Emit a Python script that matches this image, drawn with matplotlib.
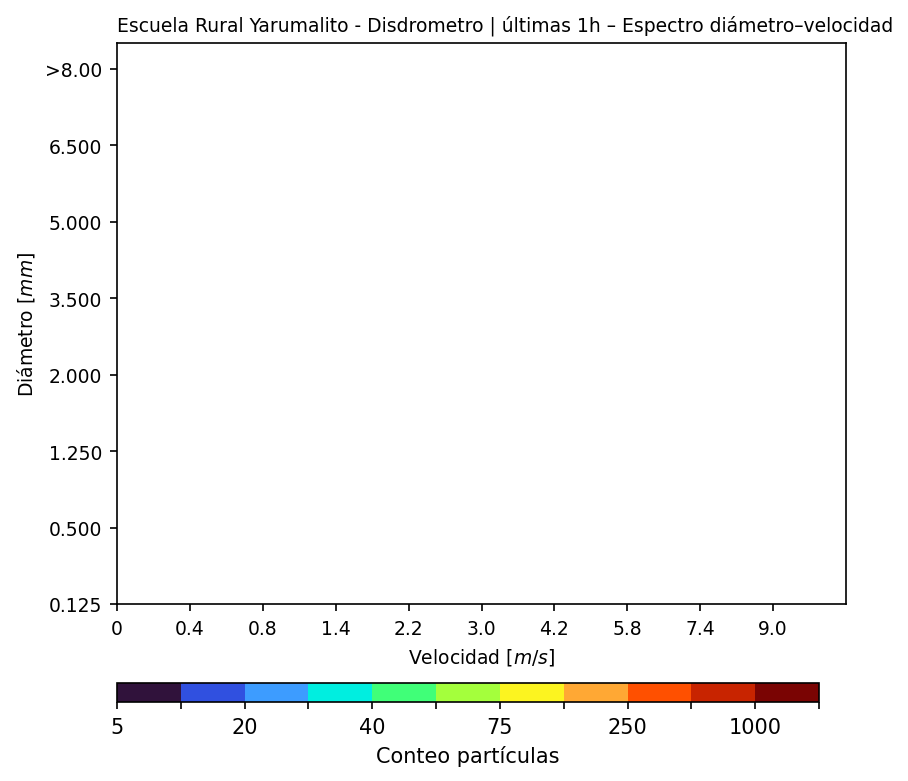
import matplotlib
matplotlib.use("Agg")
import matplotlib.pyplot as plt
import matplotlib as mpl
import numpy as np

title = "Escuela Rural Yarumalito - Disdrometro | últimas 1h – Espectro diámetro–velocidad"
x_ticklabels = ["0", "0.4", "0.8", "1.4", "2.2", "3.0", "4.2", "5.8", "7.4", "9.0"]
y_ticklabels = ["0.125", "0.500", "1.250", "2.000", "3.500", "5.000", "6.500", ">8.00"]
cbar_bounds = [5, 10, 20, 30, 40, 50, 75, 100, 250, 500, 1000, 2000]
cbar_labels = ["5", "", "20", "", "40", "", "75", "", "250", "", "1000", ""]
cbar_colors = ["#30123b", "#3050e0", "#3d9cff", "#00eee0", "#40ff78", "#a4ff3c",
               "#fcf420", "#ffa834", "#ff5000", "#c82400", "#7a0403"]

fig = plt.figure(figsize=(908/150, 782/150), dpi=150)
W, H = 908, 782
ax = fig.add_axes([117/W, 1-605/H, (846-117)/W, (605-44)/H])
ax.set_xlim(0, 10)
ax.set_ylim(0, 7.34)
ax.set_xticks(np.arange(len(x_ticklabels)))
ax.set_xticklabels(x_ticklabels, fontsize=9)
ax.set_yticks(np.arange(len(y_ticklabels)))
ax.set_yticklabels(y_ticklabels, fontsize=9)
ax.set_xlabel("Velocidad [$m/s$]", fontsize=9)
ax.set_ylabel("Diámetro [$mm$]", fontsize=9)
ax.set_title(title, fontsize=9, loc="left")

n = len(cbar_bounds) - 1
cmap = mpl.colors.ListedColormap(cbar_colors)
norm = mpl.colors.BoundaryNorm(cbar_bounds, n)
cax = fig.add_axes([117/W, 1-703/H, (819-117)/W, (703-684)/H])
cb = fig.colorbar(mpl.cm.ScalarMappable(norm=norm, cmap=cmap), cax=cax,
                  orientation="horizontal", spacing="uniform")
cb.set_ticks(cbar_bounds)
cb.set_ticklabels(cbar_labels)
cb.ax.tick_params(labelsize=10)
cb.set_label("Conteo partículas", fontsize=10)

fig.savefig("out.png", dpi=150)
